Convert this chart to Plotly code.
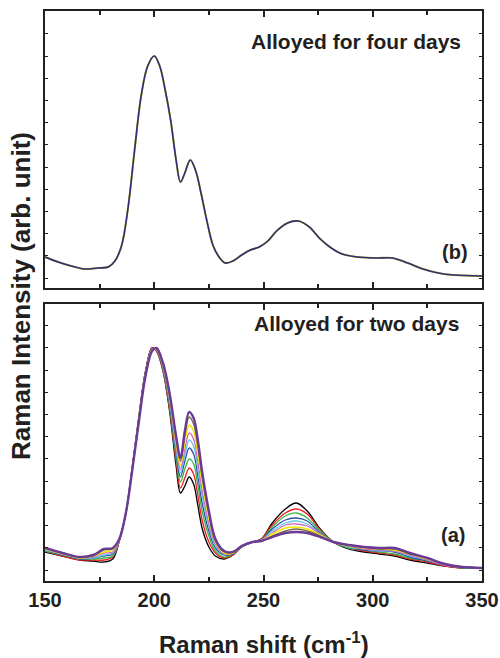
import plotly.graph_objects as go

# ---------------- data ----------------
x_top = [150,156,162,168,174,179,182,185,188,191,194,197,200,202.5,205,207.5,210,212,214,216.5,
         219,221.5,224,227,230,232.5,236,240,244,248,252,256,261,266,271,276,281,286,293,301,
         309,316,323,330,337,350]
y_top = [31,26,22,19,20,21,27,42,80,138,192,222,232,222,198,168,128,106,115,128,
         117,94,68,42,30,25,27,33,38,41,47,57,65,67,61,49,40,34,31,30,
         30,25,19,15,13,12]

x_bot = [150,158,166,172,177,181,184,187,190,193,196,199,201,204,207,210,212,214,216,218,
         220,222,225,228,232,236,240,245,249,254,260,265,270,276,282,289,296,303,310,317,
         325,333,341,350]

s_black   = [29,25,21,20,19,22,40,68,115,165,210,233,230,210,170,115,88,95,104,97,75,52,34,25,22,26,34,39,42,58,72,78,70,52,39,32,29,27,25,21,18,15,13,13]
s_red     = [30,25,21,21,21,24,40,68,115,164,209,233,230,211,173,120,93,103,113,107,85,60,39,28,23,26,34,39,42,56,68,72,67,51,39,33,30,28,26,22,19,15,13,13]
s_green   = [30,26,22,22,23,25,41,68,114,164,209,232,231,212,175,124,99,112,122,117,95,69,45,30,24,27,34,39,41,54,65,68,63,50,39,33,31,29,27,23,20,16,13,13]
s_blue    = [31,26,22,23,25,27,41,68,114,163,208,232,231,214,178,129,104,120,133,127,104,77,50,33,26,27,34,39,41,52,61,63,60,48,39,34,31,30,29,24,20,16,14,13]
s_cyan    = [31,27,23,23,26,28,41,68,114,162,207,231,232,215,180,132,108,126,141,135,112,84,55,35,27,28,35,39,41,50,58,60,57,47,39,34,32,30,30,25,21,16,14,13]
s_magenta = [32,27,23,24,28,29,41,68,113,162,207,231,232,215,182,135,112,132,148,142,119,90,58,37,27,28,35,39,41,48,56,57,55,47,39,35,32,31,30,26,21,16,14,13]
s_yellow  = [32,27,23,25,29,31,42,68,113,161,206,231,232,216,184,139,116,139,156,150,127,97,63,39,28,28,35,39,40,47,53,54,52,46,39,35,33,32,31,27,22,17,14,13]
s_olive   = [33,28,24,25,31,32,42,68,112,160,205,230,233,217,186,142,120,145,164,157,134,103,67,40,29,29,35,39,40,45,50,52,50,45,39,36,34,32,32,27,23,17,14,13]
s_purple  = [33,28,24,26,32,33,42,68,112,160,205,230,233,218,188,145,123,150,169,163,140,108,70,42,30,29,35,39,40,44,48,49,48,44,39,36,34,33,33,28,23,17,14,13]

bottom_series = [s_black, s_red, s_green, s_blue, s_cyan, s_magenta, s_yellow, s_olive, s_purple]
bottom_colors = ["#000000", "#ee1c24", "#3db54a", "#2e4fa3", "#5cc6ea", "#d068c0", "#f2e600", "#6f6a3a", "#6b3a96"]
bottom_widths = [1.3, 1.3, 1.3, 1.3, 1.3, 1.3, 1.5, 1.3, 2.4]

x_ticks = [150, 200, 250, 300, 350]
x_ticklabels = ["150", "200", "250", "300", "350"]

# ---------------- figure ----------------
fig = go.Figure()

# top panel (b): overlaid spectra
fig.add_trace(go.Scatter(x=x_top, y=y_top, mode="lines", line=dict(color="#c9b830", width=2.0, shape="spline"),
                         xaxis="x", yaxis="y", showlegend=False, hoverinfo="skip"))
fig.add_trace(go.Scatter(x=x_top, y=y_top, mode="lines", line=dict(color="#2f2f78", width=1.6, shape="spline"),
                         xaxis="x", yaxis="y", showlegend=False))

for ys, c, w in zip(bottom_series, bottom_colors, bottom_widths):
    fig.add_trace(go.Scatter(x=x_bot, y=ys, mode="lines", line=dict(color=c, width=w, shape="spline"),
                             xaxis="x2", yaxis="y2", showlegend=False))

FONT = "Liberation Sans, Arial, sans-serif"
axis_common = dict(showline=True, linecolor="#231f20", linewidth=2, mirror="allticks",
                   ticks="inside", tickcolor="#231f20", showgrid=False, zeroline=False, automargin=False)

fig.update_layout(
    width=500, height=658,
    margin=dict(l=45, r=18, t=11, b=77),
    paper_bgcolor="white", plot_bgcolor="white",
    font=dict(family=FONT, color="#231f20"),
    xaxis=dict(**axis_common, domain=[0, 1], range=[150, 350], anchor="y",
               tickvals=x_ticks, ticktext=x_ticklabels, showticklabels=False, ticklen=6, tickwidth=1.5,
               minor=dict(dtick=25, tick0=150, ticks="inside", ticklen=4, tickcolor="#231f20", tickwidth=1.5)),
    yaxis=dict(**axis_common, domain=[0.514, 1], range=[0, 277], anchor="x",
               tick0=10, dtick=22.2, ticklen=3, tickwidth=1.2, showticklabels=False),
    xaxis2=dict(**axis_common, domain=[0, 1], range=[150, 350], anchor="y2",
                tickvals=x_ticks, ticktext=x_ticklabels, ticklen=6, tickwidth=1.5,
                tickfont=dict(family=FONT, size=20, weight="bold", color="#231f20"),
                minor=dict(dtick=25, tick0=150, ticks="inside", ticklen=4, tickcolor="#231f20", tickwidth=1.5)),
    yaxis2=dict(**axis_common, domain=[0, 0.486], range=[0, 277], anchor="x2",
                tick0=11, dtick=22.2, ticklen=3, tickwidth=1.2, showticklabels=False),
)

ann_font = dict(family=FONT, size=21, color="#231f20")
fig.add_annotation(text="<b>Alloyed for four days</b>", xref="paper", yref="paper", x=0.956, y=0.947,
                   xanchor="right", yanchor="middle", showarrow=False, font=ann_font)
fig.add_annotation(text="<b>Alloyed for two days</b>", xref="paper", yref="paper", x=0.951, y=0.4526,
                   xanchor="right", yanchor="middle", showarrow=False, font=ann_font)
fig.add_annotation(text="<b>(b)</b>", xref="paper", yref="paper", x=0.9725, y=0.577,
                   xanchor="right", yanchor="middle", showarrow=False, font=dict(family=FONT, size=20, color="#231f20"))
fig.add_annotation(text="<b>(a)</b>", xref="paper", yref="paper", x=0.9657, y=0.0807,
                   xanchor="right", yanchor="middle", showarrow=False, font=dict(family=FONT, size=20, color="#231f20"))

# axis titles
fig.add_annotation(text="<b>Raman shift (cm<sup>-1</sup>)</b>", xref="paper", yref="paper",
                   x=0.5, y=-0.108, xanchor="center", yanchor="middle", showarrow=False,
                   font=dict(family=FONT, size=24, color="#231f20"))
fig.add_annotation(text="<b>Raman Intensity (arb. unit)</b>", xref="paper", yref="paper",
                   x=-0.055, y=0.5, xanchor="center", yanchor="middle", textangle=-90, showarrow=False,
                   font=dict(family=FONT, size=26, color="#231f20"))

fig.write_html("out.html")
